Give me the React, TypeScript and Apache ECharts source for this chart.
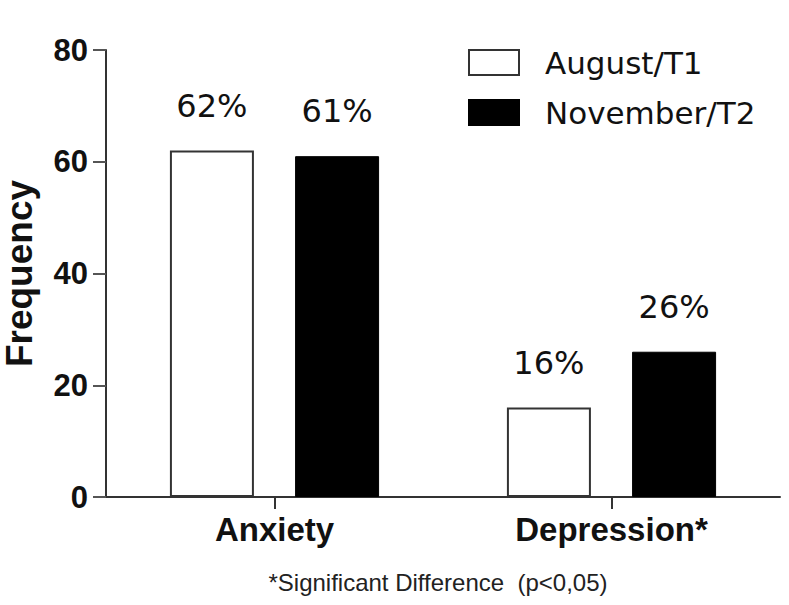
import React, { useEffect, useRef } from "react";
import * as echarts from "echarts";

const categories = ["Anxiety", "Depression*"];
const seriesNames = ["August/T1", "November/T2"];
const augustValues = [62, 16];
const novemberValues = [61, 26];
const yTicks = { min: 0, max: 80, interval: 20 };
const yAxisTitle = "Frequency";
const footnote = "*Significant Difference  (p<0,05)";

const BOLD = "'Liberation Sans', Arial, sans-serif";
const REG = "'DejaVu Sans', sans-serif";

export default function App() {
  const ref = useRef<HTMLDivElement>(null);
  useEffect(() => {
    if (!ref.current) return;
    const chart = echarts.init(ref.current, null, { renderer: "svg" });
    const labelCfg = {
      show: true,
      position: "top",
      distance: 29,
      formatter: "{c}%",
      fontFamily: REG,
      fontSize: 32,
      color: "#111",
    };
    chart.setOption({
      animation: false,
      backgroundColor: "#fff",
      grid: {
        left: 106,
        right: 9,
        top: 50,
        bottom: 108,
        containLabel: false,
        outerBoundsMode: "none",
      },
      legend: {
        orient: "vertical",
        left: 468,
        top: 47,
        padding: 0,
        itemWidth: 50,
        itemHeight: 25,
        itemGap: 19,
        icon: "rect",
        textStyle: {
          fontFamily: REG,
          fontSize: 31,
          lineHeight: 25,
          color: "#111",
          padding: [0, 0, 0, 21],
        },
        data: seriesNames,
      },
      xAxis: {
        type: "category",
        data: categories,
        axisLine: { lineStyle: { color: "#333", width: 2 } },
        axisTick: { show: true, alignWithLabel: true, length: 12, lineStyle: { color: "#333", width: 2 } },
        axisLabel: { fontFamily: BOLD, fontWeight: "bold", fontSize: 33, color: "#111", margin: 16 },
      },
      yAxis: {
        type: "value",
        min: yTicks.min,
        max: yTicks.max,
        interval: yTicks.interval,
        name: yAxisTitle,
        nameLocation: "middle",
        nameGap: 68,
        nameRotate: 90,
        nameTextStyle: { fontFamily: BOLD, fontWeight: "bold", fontSize: 37, color: "#111" },
        splitLine: { show: false },
        axisLine: { show: true, lineStyle: { color: "#333", width: 2 } },
        axisTick: { show: true, length: 13, lineStyle: { color: "#555", width: 2 } },
        axisLabel: { fontFamily: BOLD, fontWeight: "bold", fontSize: 31, color: "#111", margin: 18 },
      },
      series: [
        {
          name: seriesNames[0],
          type: "bar",
          data: augustValues,
          barWidth: 84,
          barGap: "49%",
          itemStyle: { color: "#fff", borderColor: "#333", borderWidth: 2 },
          label: labelCfg,
        },
        {
          name: seriesNames[1],
          type: "bar",
          data: novemberValues,
          barWidth: 84,
          barGap: "49%",
          itemStyle: { color: "#000", borderColor: "#000", borderWidth: 1 },
          label: labelCfg,
        },
      ],
      graphic: [
        {
          type: "text",
          x: 438,
          y: 582,
          style: {
            text: footnote,
            fontFamily: BOLD,
            fontSize: 24,
            fill: "#222",
            align: "center",
            verticalAlign: "middle",
          },
        },
      ],
    });
    return () => chart.dispose();
  }, []);
  return <div ref={ref} style={{ width: 789, height: 605, position: "absolute", left: 0, top: 0 }} />;
}
